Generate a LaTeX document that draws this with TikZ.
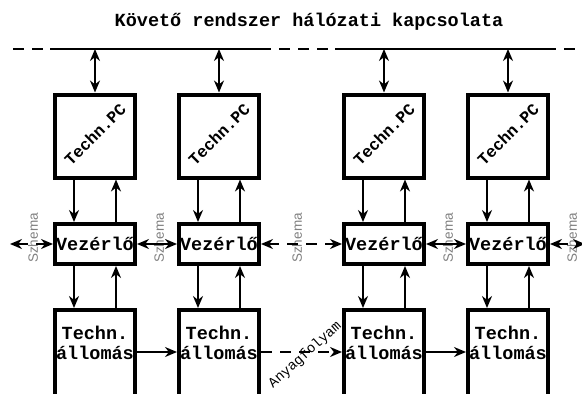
\documentclass[tikz,border=0pt]{standalone}
\usepackage{fontspec}
\setmainfont{Liberation Serif}
\setsansfont{Liberation Sans}
\setmonofont{Liberation Mono}
\usetikzlibrary{arrows.meta}
\begin{document}
\begin{tikzpicture}[x=1pt,y=-1pt,>={Stealth[length=12pt,width=10pt]},
  box/.style={draw,line width=4pt,inner sep=0pt,fill=white},
  pcbox/.style={box,minimum width=80pt,minimum height=83pt},
  vbox/.style={box,minimum width=80pt,minimum height=40pt},
  sbox/.style={box,minimum width=80pt,minimum height=120pt},
  bold/.style={font=\fontsize{18.5}{20}\selectfont\ttfamily\bfseries,inner sep=0pt},
  pctext/.style={font=\fontsize{16.5}{18}\selectfont\ttfamily\bfseries,inner sep=0pt,rotate=45},
  conn/.style={line width=2pt},
  dsh/.style={dash pattern=on 11pt off 8pt},
  lab/.style={font=\fontsize{13.5}{15}\selectfont\sffamily,text=gray,rotate=90,inner sep=0pt},
  flow/.style={font=\fontsize{14}{16}\selectfont\ttfamily,rotate=42,inner sep=0pt}
]
\useasboundingbox (0,0) rectangle (582,394);
\clip (0,0) rectangle (582,394);

\node[bold] (title) at (309,22) {Követő rendszer hálózati kapcsolata};

% bus
\coordinate (bl) at (13,49);
\coordinate (br) at (582,49);
\coordinate (s1a) at (50,49);
\coordinate (s1b) at (265,49);
\coordinate (s2a) at (335,49);
\coordinate (s2b) at (556,49);
\draw[conn,dsh] (bl) -- (br);
\draw[conn] (s1a) -- (s1b);
\draw[conn] (s2a) -- (s2b);

% labels
\node[lab] (sz1) at (33,238) {Szhema};
\node[lab] (sz2) at (159,238) {Szhema};
\node[lab] (sz3) at (297,238) {Szhema};
\node[lab] (sz4) at (448,238) {Szhema};
\node[lab] (sz5) at (572,238) {Szhema};
\node[flow] (af) at (305,355) {Anyagfolyam};

\foreach \i/\x in {1/95,2/219,3/384,4/508}{
  \node[pcbox] (p\i) at (\x,136) {};
  \node[pctext] (pt\i) at (\x,134) {Techn.PC};
  \node[vbox,bold] (v\i) at (\x,244) {Vezérlő};
  \node[sbox] (s\i) at (\x,370) {};
  \node[bold,align=center] (st\i) at (\x,343) {Techn.\\állomás};
  \coordinate (b\i) at (\x,49);
  \draw[conn,<->] (b\i) -- (p\i.north);
  \draw[conn,->] ([xshift=-21pt]p\i.south) -- ([xshift=-21pt]v\i.north);
  \draw[conn,->] ([xshift=21pt]v\i.north) -- ([xshift=21pt]p\i.south);
  \draw[conn,->] ([xshift=-21pt]v\i.south) -- ([xshift=-21pt]s\i.north);
  \draw[conn,->] ([xshift=21pt]s\i.north) -- ([xshift=21pt]v\i.south);
}

% controller links
\coordinate (vl) at (10,244);
\coordinate (vr) at (585,244);
\draw[conn,<->,dsh] (vl) -- (v1.west);
\draw[conn,<->] (v1.east) -- (v2.west);
\draw[conn,<->,dsh] (v2.east) -- (v3.west);
\draw[conn,<->] (v3.east) -- (v4.west);
\draw[conn,<->,dsh] (v4.east) -- (vr);

% material flow
\draw[conn,->] ([yshift=18pt]s1.east) -- ([yshift=18pt]s2.west);
\draw[conn,->,dsh] ([yshift=18pt]s2.east) -- ([yshift=18pt]s3.west);
\draw[conn,->] ([yshift=18pt]s3.east) -- ([yshift=18pt]s4.west);
\end{tikzpicture}
\end{document}
